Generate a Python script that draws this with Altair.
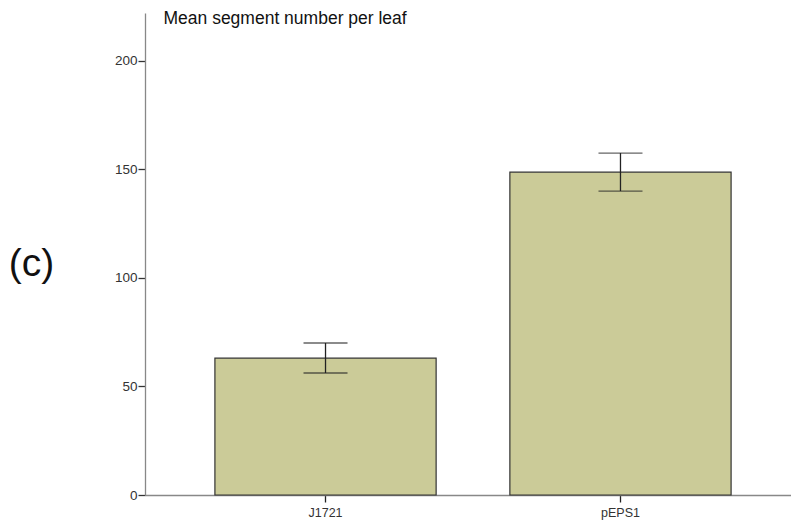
import altair as alt
import pandas as pd

# Mean segment number per leaf, with error bar limits
groups = ["J1721", "pEPS1"]
means = [63.0, 148.7]
err_low = [56.2, 140.0]
err_high = [70.0, 157.5]
y_ticks = [0, 50, 100, 150, 200]

df = pd.DataFrame({"group": groups, "mean": means, "lo": err_low, "hi": err_high})

FONT = "Liberation Sans"

x_enc = alt.X(
    "group:N",
    sort=groups,
    scale=alt.Scale(range=[0, 656], paddingInner=0.25, paddingOuter=0.237),
    axis=alt.Axis(
        title=None,
        labelAngle=0,
        labelFontSize=12.5,
        labelColor="#333",
        labelFont=FONT,
        labelPadding=4,
        tickSize=7,
        tickColor="#222",
        tickWidth=1.3,
        domainColor="#888",
        domainWidth=1.3,
    ),
)

y_scale = alt.Scale(domain=[0, 222], nice=False)

bars = alt.Chart(df).mark_bar(
    color="#cbcb98", stroke="#333333", strokeWidth=1.2
).encode(
    x=x_enc,
    y=alt.Y(
        "mean:Q",
        scale=y_scale,
        axis=alt.Axis(
            values=y_ticks,
            title="Mean segment number per leaf",
            titleAngle=0,
            titleAlign="left",
            titleBaseline="alphabetic",
            titleX=18,
            titleY=10,
            titleFontSize=17.5,
            titleFontWeight="normal",
            titleFont=FONT,
            titleColor="#111",
            labelFontSize=13.5,
            labelColor="#333",
            labelFont=FONT,
            labelPadding=1,
            tickSize=7,
            tickColor="#333",
            tickWidth=1.3,
            domainColor="#888",
            domainWidth=1.3,
            grid=False,
        ),
    ),
)

stems = alt.Chart(df).mark_rule(color="#222", strokeWidth=1.3).encode(
    x=alt.X("group:N", sort=groups),
    y=alt.Y("lo:Q", scale=y_scale),
    y2="hi:Q",
)

caps_hi = alt.Chart(df).mark_tick(
    orient="horizontal", size=44, thickness=1.3, color="#222"
).encode(x=alt.X("group:N", sort=groups), y=alt.Y("hi:Q", scale=y_scale))

caps_lo = alt.Chart(df).mark_tick(
    orient="horizontal", size=44, thickness=1.3, color="#222"
).encode(x=alt.X("group:N", sort=groups), y=alt.Y("lo:Q", scale=y_scale))

panel_label = alt.Chart(pd.DataFrame({"t": ["(c)"]})).mark_text(
    fontSize=39, font=FONT, color="#111", align="center", baseline="alphabetic"
).encode(x=alt.value(-113.5), y=alt.value(263), text="t:N")

chart = alt.layer(bars, stems, caps_hi, caps_lo, panel_label).properties(
    width=645,
    height=482,
    padding={"left": 145, "top": 13, "right": 1, "bottom": 27},
    autosize=alt.AutoSizeParams(type="none"),
    background="white",
).configure_view(stroke=None)

chart.save("out.html", embed_options={"renderer": "svg", "actions": False})
